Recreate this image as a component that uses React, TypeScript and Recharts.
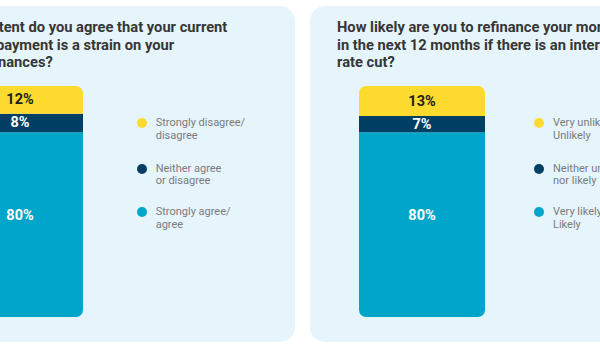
import React from 'react';
import { BarChart, Bar, XAxis, YAxis, LabelList, Legend } from 'recharts';

const strainTitle = 'To what extent do you agree that your current mortgage payment is a strain on your personal finances?';
const refinanceTitle = 'How likely are you to refinance your mortgage in the next 12 months if there is an interest rate cut?';

const seriesKeys = ['low', 'mid', 'high'];
const seriesColors = ['#FCDA2E', '#003F63', '#00A6C9'];
const labelColors = ['#1d1d1b', '#ffffff', '#ffffff'];

const strainValues = [12, 8, 80];
const refinanceValues = [13, 7, 80];

const strainLegend = [
  ['Strongly disagree/', 'disagree'],
  ['Neither agree', 'or disagree'],
  ['Strongly agree/', 'agree'],
];
const refinanceLegend = [
  ['Very unlikely/', 'Unlikely'],
  ['Neither unlikely', 'nor likely'],
  ['Very likely/', 'Likely'],
];

const PANEL_W = 387;
const PANEL_H = 336;

function makeLabel(idx: number) {
  return (props: any) => {
    const { x, y, width, height, value } = props;
    const dy = idx === 2 ? -9 : 0;
    return (
      <text
        x={x + width / 2}
        y={y + height / 2 + dy}
        textAnchor="middle"
        dominantBaseline="central"
        fill={labelColors[idx]}
        fontFamily="Roboto, sans-serif"
        fontWeight={700}
        fontSize={14.5}
      >
        {value}%
      </text>
    );
  };
}

function Panel({ left, title, titleX, values, legend, legendX }: any) {
  const data = [{ name: 'q', [seriesKeys[0]]: values[0], [seriesKeys[1]]: values[1], [seriesKeys[2]]: values[2] }];
  const legendContent = () => (
    <div style={{ position: 'relative', width: 150, height: 140 }}>
      {legend.map((lines: string[], i: number) => (
        <div
          key={i}
          style={{
            position: 'absolute',
            left: 0,
            top: [0, 45.7, 89][i],
            display: 'flex',
            alignItems: 'flex-start',
          }}
        >
          <div
            style={{
              width: 10,
              height: 10,
              borderRadius: 5,
              background: seriesColors[i],
              marginTop: 1.3,
              marginRight: 9,
              flexShrink: 0,
            }}
          />
          <div
            style={{
              fontFamily: 'Roboto, sans-serif',
              fontSize: 11,
              lineHeight: '12.5px',
              color: '#7b7b7b',
              whiteSpace: 'nowrap',
            }}
          >
            {lines.map((l, k) => (
              <div key={k}>{l}</div>
            ))}
          </div>
        </div>
      ))}
    </div>
  );
  return (
    <div
      style={{
        position: 'absolute',
        left,
        top: 6,
        width: PANEL_W,
        height: PANEL_H,
        borderRadius: 15,
        background: '#E6F5FB',
      }}
    >
      <div
        style={{
          position: 'absolute',
          left: titleX,
          top: 13,
          width: 305,
          fontFamily: 'Roboto, sans-serif',
          fontWeight: 700,
          fontSize: 14.7,
          lineHeight: '17.5px',
          color: '#363636',
        }}
      >
        {title}
      </div>
      <div style={{ position: 'absolute', left: 0, top: 0 }}>
        <BarChart
          width={PANEL_W}
          height={PANEL_H}
          data={data}
          margin={{ top: 80, bottom: 25, left: 49, right: 212 }}
          barCategoryGap={0}
        >
          <XAxis dataKey="name" hide />
          <YAxis hide domain={[0, 100]} />
          <Bar dataKey="high" stackId="s" fill={seriesColors[2]} radius={[0, 0, 7, 7]} isAnimationActive={false}>
            <LabelList dataKey="high" content={makeLabel(2)} />
          </Bar>
          <Bar dataKey="mid" stackId="s" fill={seriesColors[1]} isAnimationActive={false}>
            <LabelList dataKey="mid" content={makeLabel(1)} />
          </Bar>
          <Bar dataKey="low" stackId="s" fill={seriesColors[0]} radius={[7, 7, 0, 0]} isAnimationActive={false}>
            <LabelList dataKey="low" content={makeLabel(0)} />
          </Bar>
          <Legend
            layout="vertical"
            align="center"
            verticalAlign="middle"
            content={legendContent}
            wrapperStyle={{ left: legendX, top: 111, width: 150, height: 140 }}
          />
        </BarChart>
      </div>
    </div>
  );
}

export default function App() {
  return (
    <div
      style={{
        position: 'absolute',
        left: 0,
        top: 0,
        width: 600,
        height: 350,
        overflow: 'hidden',
        background: '#ffffff',
      }}
    >
      <Panel left={-92} title={strainTitle} titleX={20} values={strainValues} legend={strainLegend} legendX={228.7} />
      <Panel left={310} title={refinanceTitle} titleX={27} values={refinanceValues} legend={refinanceLegend} legendX={224} />
    </div>
  );
}
